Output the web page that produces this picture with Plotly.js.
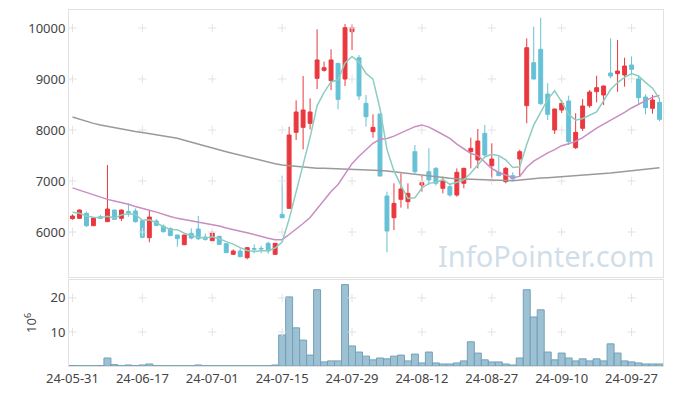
<!DOCTYPE html>
<html><head><meta charset="utf-8">
<script src="https://cdn.plot.ly/plotly-3.0.1.min.js"></script>
<style>html,body{margin:0;padding:0;background:#fff}#chart{width:673px;height:396px}</style>
</head><body><div id="chart"></div>
<script>
const dates = ['24-05-31','24-06-03','24-06-04','24-06-05','24-06-07','24-06-10','24-06-11','24-06-12','24-06-13','24-06-14',
'24-06-17','24-06-18','24-06-19','24-06-20','24-06-21','24-06-24','24-06-25','24-06-26','24-06-27','24-06-28',
'24-07-01','24-07-02','24-07-03','24-07-04','24-07-05','24-07-08','24-07-09','24-07-10','24-07-11','24-07-12',
'24-07-15','24-07-16','24-07-17','24-07-18','24-07-19','24-07-22','24-07-23','24-07-24','24-07-25','24-07-26',
'24-07-29','24-07-30','24-07-31','24-08-01','24-08-02','24-08-05','24-08-06','24-08-07','24-08-08','24-08-09',
'24-08-12','24-08-13','24-08-14','24-08-16','24-08-19','24-08-20','24-08-21','24-08-22','24-08-23','24-08-26',
'24-08-27','24-08-28','24-08-29','24-08-30','24-09-02','24-09-03','24-09-04','24-09-05','24-09-06','24-09-09',
'24-09-10','24-09-11','24-09-12','24-09-13','24-09-19','24-09-20','24-09-23','24-09-24','24-09-25','24-09-26',
'24-09-27','24-09-30','24-10-02','24-10-04','24-10-07'];

const openP = [6262,6268,6366,6124,6300,6203,6431,6268,6400,6412,
6222,5889,6216,6115,6070,5941,5751,5974,6059,5902,
5830,5915,5771,5562,5627,5497,5675,5680,5778,5562,
6347,6464,7954,8052,8131,9013,9170,8967,9307,9000,
9928,9418,8523,7967,8314,6706,6281,6641,6595,7575,
6922,7183,7248,6857,6889,6725,6955,7575,7412,7935,
7300,7170,6987,7105,7431,8477,9320,9582,8706,8000,
8392,8569,7654,8033,8477,8752,8686,9118,9105,9078,
9275,9000,8647,8425,8543];
const highP = [6347,6440,6398,6290,6333,7314,6440,6440,6562,6464,
6225,6431,6255,6150,6090,5945,5945,6072,6314,5974,
6026,5925,5780,5660,5680,5706,5758,5731,5810,5785,
7105,8065,8582,9059,8621,9974,9340,9582,9310,10078,
10072,9470,8686,8307,8320,6791,6955,7150,6955,7706,
7105,7641,7275,7085,6955,7248,7260,7850,8020,8098,
7739,7477,7275,7170,7614,9797,10026,10200,8915,8420,
8588,8673,8327,8608,8784,9065,8870,9797,9765,9418,
9444,9065,8700,8686,8620];
const lowP = [6242,6260,6098,6115,6255,6200,6240,6216,6300,6183,
5880,5798,6111,5987,5915,5712,5745,5856,5843,5830,
5825,5750,5590,5555,5510,5464,5582,5582,5575,5555,
6268,6460,7804,7621,8013,8804,9144,8784,8405,8863,
9569,8588,8065,7850,7090,5602,6039,6477,6457,7150,
6791,6922,6910,6758,6693,6693,6857,7248,7248,7477,
7053,7100,6955,6993,7085,8131,8990,8490,8196,7922,
8333,7706,7627,7980,8438,8543,8490,9013,8752,8850,
9000,8497,8307,8320,8170];
const closeP = [6314,6431,6124,6275,6268,6451,6248,6431,6380,6203,
5895,6294,6131,6007,5930,5870,5941,5882,5869,5856,
5980,5758,5595,5627,5516,5693,5665,5670,5627,5778,
6281,7902,8353,8392,8353,9373,9222,9373,8601,10007,
10007,8667,8261,8052,7098,6020,6562,6843,6758,7183,
6967,7020,6955,7006,6726,7170,7248,7641,7784,7510,
7431,7105,7248,7040,7575,9614,9000,8516,8307,8412,
8523,7771,7954,8471,8745,8830,8863,9059,9157,9255,
9190,8634,8438,8588,8209];

const ma5 = [6386,6366,6314,6288,6282,6310,6273,6335,6356,6343,
6231,6241,6181,6106,6051,6046,5976,5926,5898,5884,
5906,5869,5812,5763,5695,5638,5619,5634,5634,5687,
5804,6252,6788,7341,7856,8475,8739,8943,8984,9315,
9442,9331,9109,8999,8417,7620,7199,6915,6656,6673,
6863,6954,6977,7026,6935,6975,7021,7158,7314,7471,
7523,7494,7416,7267,7280,7716,8095,8349,8602,8770,
8552,8306,8193,8226,8293,8354,8573,8794,8931,9033,
9105,9059,8935,8821,8612];
const ma20 = [6865,6820,6770,6720,6670,6640,6610,6580,6545,6500,
6455,6425,6390,6340,6305,6268,6245,6220,6195,6163,
6146,6118,6077,6052,6014,5985,5946,5917,5877,5847,
5850,5951,6054,6167,6284,6456,6624,6795,6931,7138,
7340,7485,7618,7740,7819,7835,7880,7939,7995,8065,
8100,8056,7986,7916,7835,7725,7626,7540,7499,7374,
7245,7167,7116,7066,7090,7269,7391,7475,7552,7614,
7692,7729,7779,7852,7953,8036,8117,8188,8257,8344,
8432,8508,8568,8645,8677];
const ma120 = [8255,8210,8170,8130,8098,8070,8045,8020,7995,7972,
7950,7930,7905,7885,7862,7840,7800,7760,7720,7680,
7640,7610,7575,7540,7505,7470,7440,7410,7375,7340,
7314,7300,7290,7275,7262,7250,7248,7244,7240,7237,
7235,7230,7222,7214,7205,7196,7180,7162,7145,7125,
7105,7092,7080,7067,7053,7045,7038,7030,7025,7020,
7018,7014,7010,7006,7020,7040,7050,7058,7066,7075,
7085,7094,7103,7112,7121,7130,7144,7158,7172,7186,
7200,7215,7230,7246,7262];
const volume = [0.15,0.1,0.1,0.1,0.15,2.35,0.4,0.1,0.3,0.1,
0.3,0.6,0.1,0.1,0.1,0.1,0.1,0.1,0.3,0.1,
0.1,0.1,0.1,0.1,0.1,0.1,0.1,0.1,0.1,0.3,
9.1,20.3,11.2,7.6,3.2,22.4,1.2,1.5,1.5,23.9,
5.9,4.1,2.9,1.8,2.35,2.1,2.9,3.2,1.5,3.5,
0.9,4.1,0.9,0.6,0.6,0.9,1.5,7.1,3.8,1.8,
1.2,1.2,0.6,0.3,2.35,22.4,14.4,16.5,4.1,1.8,
3.8,2.35,1.5,2.1,1.5,2.1,1.5,6.5,3.8,1.5,
1.2,0.9,0.6,0.6,0.6];

const tickDates = ['24-05-31','24-06-17','24-07-01','24-07-15','24-07-29','24-08-12','24-08-27','24-09-10','24-09-27'];
const priceTicks = [6000,7000,8000,9000,10000];
const priceTickText = ['6000','7000','8000','9000','10000'];
const volTicks = [10,20];
const volTickText = ['10','20'];

const RED = 'rgb(233,57,62)', BLUE = 'rgb(102,193,214)';
const FONT = '"Noto Sans", "Open Sans", sans-serif';

function crosses(ys){ const xs=[], yy=[]; tickDates.forEach(d=>ys.forEach(v=>{xs.push(d);yy.push(v);})); return [xs,yy]; }
const [cx1, cy1] = crosses(priceTicks);
const [cx2, cy2] = crosses(volTicks);
const crossMarker = {symbol:'cross-thin', size:6, line:{color:'#e3e3e3', width:1}};

const traces = [
  {type:'scatter', mode:'markers', x:cx1, y:cy1, xaxis:'x', yaxis:'y', marker:crossMarker, hoverinfo:'skip', showlegend:false},
  {type:'scatter', mode:'markers', x:cx2, y:cy2, xaxis:'x2', yaxis:'y2', marker:crossMarker, hoverinfo:'skip', showlegend:false},
  {type:'candlestick', x:dates, open:openP, high:highP, low:lowP, close:closeP, xaxis:'x', yaxis:'y',
   increasing:{line:{color:RED, width:1}, fillcolor:RED},
   decreasing:{line:{color:BLUE, width:1}, fillcolor:BLUE},
   whiskerwidth:0, showlegend:false},
  {type:'scatter', mode:'lines', x:dates, y:ma120, xaxis:'x', yaxis:'y', line:{color:'#9a9a9a', width:1.5}, showlegend:false},
  {type:'scatter', mode:'lines', x:dates, y:ma20, xaxis:'x', yaxis:'y', line:{color:'#c98dc2', width:1.5}, showlegend:false},
  {type:'scatter', mode:'lines', x:dates, y:ma5, xaxis:'x', yaxis:'y', line:{color:'#8ccdc1', width:1.5}, showlegend:false},
  {type:'bar', x:dates, y:volume, xaxis:'x2', yaxis:'y2', marker:{color:'rgba(130,176,199,0.78)', line:{color:'rgb(115,162,184)', width:1}}, showlegend:false}
];

const axisLine = '#e2e2e2';
const layout = {
  width:673, height:396,
  margin:{l:69, r:10, t:10, b:30},
  paper_bgcolor:'#fff', plot_bgcolor:'#fff',
  font:{family:FONT, size:13, color:'#444'},
  hovermode:false, showlegend:false,
  bargap:0, boxgap:0.2,
  xaxis:{type:'category', categoryorder:'array', categoryarray:dates, range:[-0.5,84.5], anchor:'y',
    showticklabels:false, ticks:'', showgrid:false, zeroline:false, showline:true, linecolor:axisLine, mirror:true,
    rangeslider:{visible:false}},
  xaxis2:{type:'category', categoryorder:'array', categoryarray:dates, range:[-0.5,84.5], anchor:'y2',
    tickvals:tickDates, ticktext:tickDates, ticks:'', showgrid:false, zeroline:false, showline:true, linecolor:axisLine, mirror:true,
    tickfont:{size:13, color:'#444'}},
  yaxis:{domain:[0.25,1], range:[5118,10353], tickvals:priceTicks, ticktext:priceTickText, ticks:'', showgrid:false, zeroline:false,
    showline:true, linecolor:axisLine, mirror:true, tickfont:{size:13, color:'#444'}},
  yaxis2:{domain:[0,0.242], range:[0,25.3], tickvals:volTicks, ticktext:volTickText, ticks:'', showgrid:false, zeroline:false,
    showline:true, linecolor:axisLine, mirror:true, tickfont:{size:13, color:'#444'},
    title:{text:'10<sup>6</sup>', font:{size:13, color:'#444'}, standoff:10}},
  annotations:[{text:'InfoPointer.com', xref:'paper', yref:'paper', x:0.988, y:0.31, xanchor:'right', yanchor:'middle',
    showarrow:false, font:{family:FONT, size:29, color:'rgba(176,200,218,0.62)'}}]
};

Plotly.newPlot('chart', traces, layout, {displayModeBar:false, staticPlot:true});
</script></body></html>
